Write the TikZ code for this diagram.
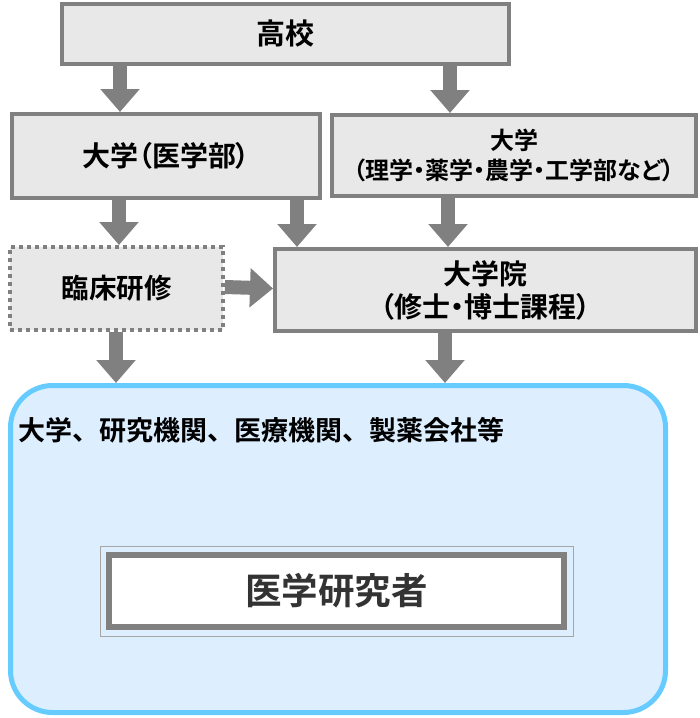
\documentclass[tikz,border=0pt]{standalone}
\usepackage{fontspec}
\setmainfont{Noto Sans CJK JP}[BoldFont={Noto Sans CJK JP Bold}]
\newfontfamily\jpprop{Noto Sans CJK JP}[BoldFont={Noto Sans CJK JP Bold}, RawFeature=+palt]
\usetikzlibrary{arrows.meta}
\definecolor{boxgray}{HTML}{808080}
\definecolor{boxfill}{HTML}{E8E8E8}
\definecolor{bigfill}{HTML}{DDEEFF}
\definecolor{bigline}{HTML}{66CCFF}
\definecolor{darktext}{HTML}{333333}
\tikzset{
  stagebox/.style={draw=boxgray, fill=boxfill, line width=4pt, inner sep=0pt, align=center, font=\bfseries},
  dotbox/.style={stagebox, dash pattern=on 4pt off 4pt},
  flow/.style={draw=boxgray, line width=14pt, -{Triangle[width=38pt,length=23pt]}},
}
\begin{document}
\begin{tikzpicture}[x=1pt,y=-1pt]
\useasboundingbox (0,0) rectangle (700,718);
% big container
\node[draw=bigline, fill=bigfill, line width=5pt, rounded corners=42pt, minimum width=655pt, minimum height=327pt, inner sep=0pt] (big) at (338,549) {};
\node[anchor=west, font=\bfseries\fontsize{27}{30}\selectfont, inner sep=0pt] (place) at (18,430) {大学、研究機関、医療機関、製薬会社等};
% researcher
\node[draw=boxgray, fill=white, line width=6pt, minimum width=455pt, minimum height=72pt, inner sep=0pt, text=darktext, font=\bfseries\fontsize{36.5}{40}\selectfont] (res) at (336.5,591) {医学研究者};
\draw[boxgray!70, line width=1pt] ([shift={(-6,-6)}]res.north west) rectangle ([shift={(6,6)}]res.south east);
% stage boxes
\node[stagebox, minimum width=447pt, minimum height=60pt, font=\bfseries\fontsize{29}{30}\selectfont] (koukou) at (285.5,34) {高校};
\node[stagebox, minimum width=308pt, minimum height=84pt, font=\jpprop\bfseries\fontsize{28}{30}\selectfont] (igaku) at (166,156) {大学（医学部）};
\node[stagebox, minimum width=364pt, minimum height=81pt, font=\jpprop\bfseries\fontsize{24}{30}\selectfont] (rigaku) at (514,155.5) {大学\\（理学・薬学・農学・工学部など）};
\node[stagebox, minimum width=421pt, minimum height=82pt, font=\jpprop\bfseries\fontsize{28}{33}\selectfont] (inn) at (485.5,290) {大学院\\（修士・博士課程）};
\node[dotbox, minimum width=213pt, minimum height=83pt, font=\bfseries\fontsize{27.5}{30}\selectfont] (rinsho) at (116.5,288.5) {臨床研修};
% arrows
\draw[flow] ([xshift=-165.5pt]koukou.south) -- ([xshift=-46pt]igaku.north);
\draw[flow] ([xshift=164.5pt]koukou.south) -- ([xshift=-64pt]rigaku.north);
\draw[flow] ([xshift=-47pt]igaku.south) -- ([xshift=2.5pt]rinsho.north);
\draw[flow] ([xshift=131pt]igaku.south) -- ([xshift=-188.5pt]inn.north);
\draw[flow] ([xshift=-66pt]rigaku.south) -- ([xshift=-37.5pt]inn.north);
\draw[flow] ([yshift=1.5pt]rinsho.east) -- ([yshift=1.5pt]inn.west);
\draw[flow] ([xshift=-0.5pt]rinsho.south) -- ([xshift=-222pt]big.north);
\draw[flow] ([xshift=-40.5pt]inn.south) -- ([xshift=107pt]big.north);
\end{tikzpicture}
\end{document}
